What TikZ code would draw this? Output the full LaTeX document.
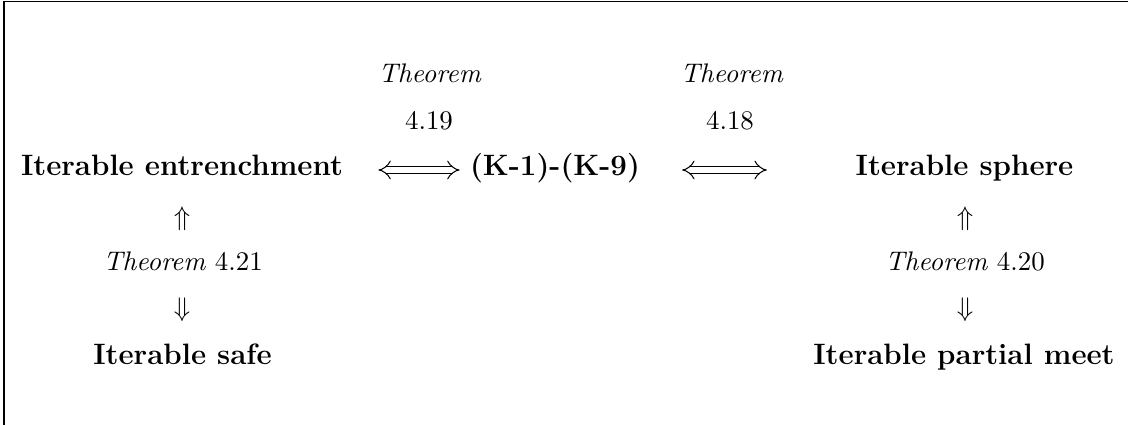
\documentclass[tikz,border=0pt]{standalone}
\usetikzlibrary{arrows.meta}
\tikzset{
  lbl/.style={inner sep=0pt, anchor=base, font=\fontsize{10.95}{13.6}\selectfont},
  big/.style={inner sep=0pt, anchor=base, font=\fontsize{12}{14.5}\selectfont\bfseries},
  glyph/.style={inner sep=0pt, anchor=center, font=\fontsize{10.95}{13.6}\selectfont},
  dbl/.style={double, double distance=2.3pt, line width=0.42pt, {Implies}-{Implies}},
  frame/.style={line width=0.5pt}
}
\begin{document}
\begin{tikzpicture}[x=0.4072pt, y=-0.4072pt]
\useasboundingbox (0,0) rectangle (1128,425);
\draw[frame] (4,425) -- (4,1.5) -- (1128,1.5);
\coordinate (axis) at (0,170);
% main row
\node[big] (ent) at (182,176) {Iterable entrenchment};
\node[big] (k) at (555,176) {(K-1)-(K-9)};
\node[big] (sph) at (964.5,176) {Iterable sphere};
% top labels
\node[lbl] (tl1) at (430,83) {\textit{Theorem}};
\node[lbl] (tl2) at (429,130) {4.19};
\node[lbl] (tr1) at (732,83) {\textit{Theorem}};
\node[lbl] (tr2) at (730,130) {4.18};
% horizontal arrows
\draw[dbl, shorten <=14.25pt, shorten >=4.07pt] (ent.east |- axis) -- (k.west |- axis);
\draw[dbl, shorten <=17pt, shorten >=36pt] (k.east |- axis) -- (sph.west |- axis);
% left column
\node[glyph] (upL) at (182,218.5) {$\Uparrow$};
\node[lbl] (thL) at (183,270) {\textit{Theorem} 4.21};
\node[glyph] (dnL) at (182,310) {$\Downarrow$};
\node[big] (safe) at (182.5,364) {Iterable safe};
% right column
\node[glyph] (upR) at (965,218.5) {$\Uparrow$};
\node[lbl] (thR) at (965,270) {\textit{Theorem} 4.20};
\node[glyph] (dnR) at (965,310) {$\Downarrow$};
\node[big] (pm) at (964,364) {Iterable partial meet};
\end{tikzpicture}
\end{document}
